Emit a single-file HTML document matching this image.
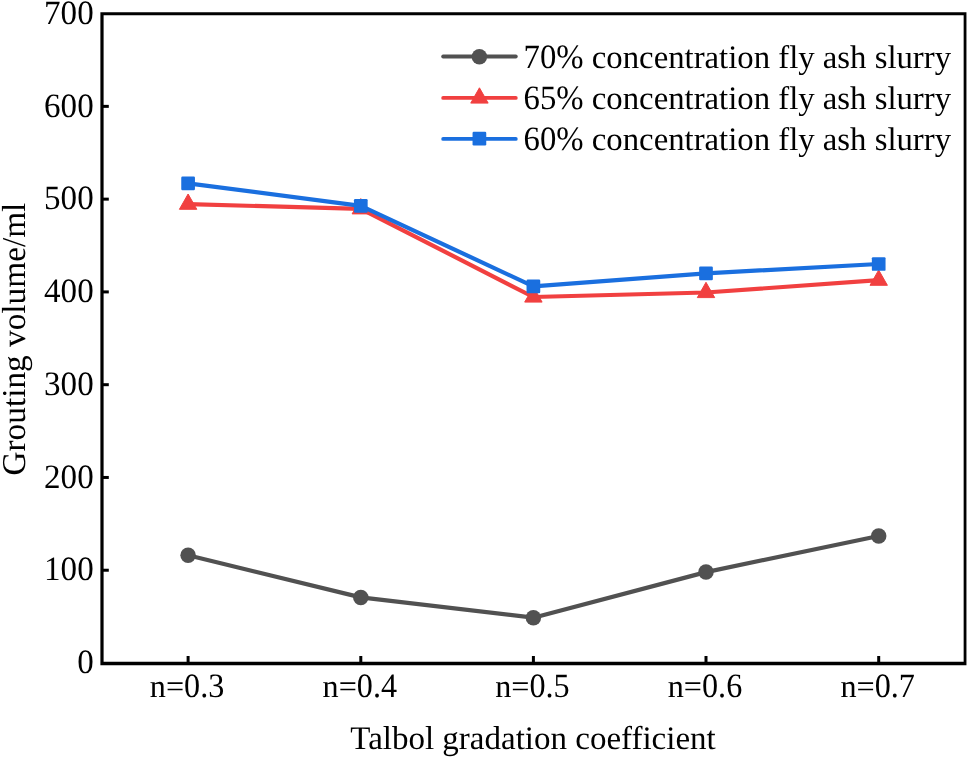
<!DOCTYPE html>
<html><head><meta charset="utf-8"><style>
html,body{margin:0;padding:0;background:#fff;}
svg{display:block;will-change:transform;}
text{font-family:"Liberation Serif",serif;fill:#000;text-rendering:geometricPrecision;}
</style></head><body>
<svg width="967" height="758" viewBox="0 0 967 758">
<rect width="967" height="758" fill="#fff"/>
<path d="M100.4 12.3H966.45V665.15H100.4Z M103.6 15.2V661.8H963.65V15.2Z" fill="#000" fill-rule="evenodd"/>
<line x1="102" y1="570.23" x2="108.8" y2="570.23" stroke="#000" stroke-width="3"/>
<line x1="102" y1="477.46" x2="108.8" y2="477.46" stroke="#000" stroke-width="3"/>
<line x1="102" y1="384.69" x2="108.8" y2="384.69" stroke="#000" stroke-width="3"/>
<line x1="102" y1="291.91" x2="108.8" y2="291.91" stroke="#000" stroke-width="3"/>
<line x1="102" y1="199.14" x2="108.8" y2="199.14" stroke="#000" stroke-width="3"/>
<line x1="102" y1="106.37" x2="108.8" y2="106.37" stroke="#000" stroke-width="3"/>
<line x1="188.10" y1="663" x2="188.10" y2="656" stroke="#000" stroke-width="3"/>
<line x1="360.80" y1="663" x2="360.80" y2="656" stroke="#000" stroke-width="3"/>
<line x1="533.40" y1="663" x2="533.40" y2="656" stroke="#000" stroke-width="3"/>
<line x1="706.00" y1="663" x2="706.00" y2="656" stroke="#000" stroke-width="3"/>
<line x1="878.70" y1="663" x2="878.70" y2="656" stroke="#000" stroke-width="3"/>
<text transform="translate(93.7,673.20) scale(1,1.03)" text-anchor="end" font-size="33.1">0</text>
<text transform="translate(93.7,580.43) scale(1,1.03)" text-anchor="end" font-size="33.1">100</text>
<text transform="translate(93.7,487.66) scale(1,1.03)" text-anchor="end" font-size="33.1">200</text>
<text transform="translate(93.7,394.89) scale(1,1.03)" text-anchor="end" font-size="33.1">300</text>
<text transform="translate(93.7,302.11) scale(1,1.03)" text-anchor="end" font-size="33.1">400</text>
<text transform="translate(93.7,209.34) scale(1,1.03)" text-anchor="end" font-size="33.1">500</text>
<text transform="translate(93.7,116.57) scale(1,1.03)" text-anchor="end" font-size="33.1">600</text>
<text transform="translate(93.7,23.80) scale(1,1.03)" text-anchor="end" font-size="33.1">700</text>
<text x="149.84" y="697" font-size="32.2">n=</text>
<text transform="translate(184.11,697) scale(1,1.06)" font-size="32.2">0.3</text>
<text x="322.54" y="697" font-size="32.2">n=</text>
<text transform="translate(356.81,697) scale(1,1.06)" font-size="32.2">0.4</text>
<text x="495.14" y="697" font-size="32.2">n=</text>
<text transform="translate(529.41,697) scale(1,1.06)" font-size="32.2">0.5</text>
<text x="667.74" y="697" font-size="32.2">n=</text>
<text transform="translate(702.01,697) scale(1,1.06)" font-size="32.2">0.6</text>
<text x="840.44" y="697" font-size="32.2">n=</text>
<text transform="translate(874.71,697) scale(1,1.06)" font-size="32.2">0.7</text>
<text x="533" y="749" text-anchor="middle" font-size="33">Talbol gradation coefficient</text>
<text transform="translate(25.2,339.1) rotate(-90)" text-anchor="middle" font-size="33.3">Grouting volume/ml</text>
<polyline points="188.10,555.30 360.80,597.40 533.40,617.70 706.00,572.10 878.70,536.00" fill="none" stroke="#515151" stroke-width="4.2" stroke-linejoin="round" stroke-linecap="round"/>
<circle cx="188.10" cy="555.30" r="7.75" fill="#515151"/>
<circle cx="360.80" cy="597.40" r="7.75" fill="#515151"/>
<circle cx="533.40" cy="617.70" r="7.75" fill="#515151"/>
<circle cx="706.00" cy="572.10" r="7.75" fill="#515151"/>
<circle cx="878.70" cy="536.00" r="7.75" fill="#515151"/>
<polyline points="188.10,204.20 360.80,208.80 533.40,297.00 706.00,292.50 878.70,280.20" fill="none" stroke="#F14040" stroke-width="4.2" stroke-linejoin="round" stroke-linecap="round"/>
<path d="M188.10 194.00 L196.80 209.30 L179.40 209.30Z" fill="#F14040" stroke="#F14040" stroke-width="1" stroke-linejoin="round"/>
<path d="M360.80 198.60 L369.50 213.90 L352.10 213.90Z" fill="#F14040" stroke="#F14040" stroke-width="1" stroke-linejoin="round"/>
<path d="M533.40 286.80 L542.10 302.10 L524.70 302.10Z" fill="#F14040" stroke="#F14040" stroke-width="1" stroke-linejoin="round"/>
<path d="M706.00 282.30 L714.70 297.60 L697.30 297.60Z" fill="#F14040" stroke="#F14040" stroke-width="1" stroke-linejoin="round"/>
<path d="M878.70 270.00 L887.40 285.30 L870.00 285.30Z" fill="#F14040" stroke="#F14040" stroke-width="1" stroke-linejoin="round"/>
<polyline points="188.10,183.30 360.80,205.80 533.40,286.40 706.00,273.30 878.70,264.00" fill="none" stroke="#1A6FDF" stroke-width="4.2" stroke-linejoin="round" stroke-linecap="round"/>
<rect x="181.25" y="176.45" width="13.7" height="13.7" rx="1.2" fill="#1A6FDF"/>
<rect x="353.95" y="198.95" width="13.7" height="13.7" rx="1.2" fill="#1A6FDF"/>
<rect x="526.55" y="279.55" width="13.7" height="13.7" rx="1.2" fill="#1A6FDF"/>
<rect x="699.15" y="266.45" width="13.7" height="13.7" rx="1.2" fill="#1A6FDF"/>
<rect x="871.85" y="257.15" width="13.7" height="13.7" rx="1.2" fill="#1A6FDF"/>
<line x1="443.15" y1="56.5" x2="515.8" y2="56.5" stroke="#515151" stroke-width="3.8" stroke-linecap="round"/>
<circle cx="479.40" cy="56.70" r="7.75" fill="#515151"/>
<text transform="translate(523.6,67.90) scale(1,1.04)" font-size="32.75">70%</text>
<text x="591.82" y="67.90" font-size="32.75">concentration fly ash slurry</text>
<line x1="443.15" y1="97.9" x2="515.8" y2="97.9" stroke="#F14040" stroke-width="3.8" stroke-linecap="round"/>
<path d="M479.45 87.80 L488.15 103.10 L470.75 103.10Z" fill="#F14040" stroke="#F14040" stroke-width="1" stroke-linejoin="round"/>
<text transform="translate(523.6,109.30) scale(1,1.04)" font-size="32.75">65%</text>
<text x="591.82" y="109.30" font-size="32.75">concentration fly ash slurry</text>
<line x1="443.15" y1="138.9" x2="515.8" y2="138.9" stroke="#1A6FDF" stroke-width="3.8" stroke-linecap="round"/>
<rect x="472.55" y="131.75" width="13.7" height="13.7" rx="1.2" fill="#1A6FDF"/>
<text transform="translate(523.6,150.30) scale(1,1.04)" font-size="32.75">60%</text>
<text x="591.82" y="150.30" font-size="32.75">concentration fly ash slurry</text>
</svg>
</body></html>
